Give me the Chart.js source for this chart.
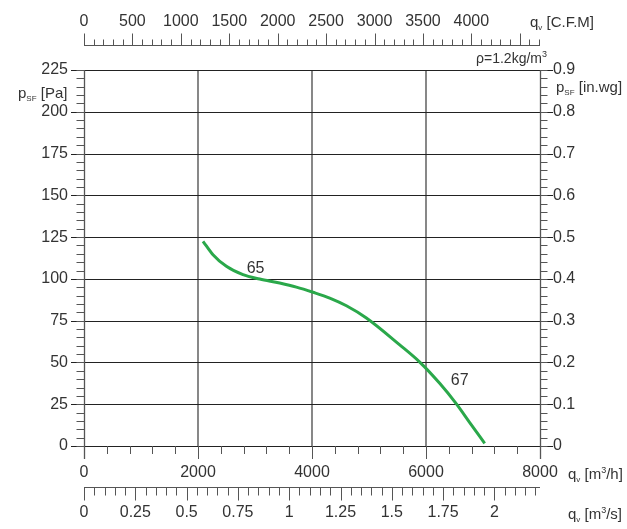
<!DOCTYPE html>
<html>
<head>
<meta charset="utf-8">
<script src="https://cdn.jsdelivr.net/npm/chart.js@4/dist/chart.umd.min.js"></script>
<style>
  html, body { margin: 0; padding: 0; background: #fff; }
  #fanChart { display: block; }
</style>
</head>
<body>
<canvas id="fanChart" width="627" height="529"></canvas>
<script>
// Fan curve
const flowM3h = [2088, 2263, 2498, 2789, 3083, 3433, 3726, 4018, 4311, 4604, 4954, 5539, 5890, 6240, 6533, 6767, 7030];
const pressurePa = [122.5, 114.5, 107.5, 102.5, 99.9, 97.5, 95.1, 92.0, 88.5, 83.9, 76.6, 60.5, 50.2, 37.5, 25.2, 14.0, 1.6];

// Curve labels (flow m3/h, pressure Pa)
const curveLabels = ["65", "67"];
const curveLabelFlow = [3010, 6590];
const curveLabelPa = [106.0, 39.0];

// Tick labels
const paTicks = [0, 25, 50, 75, 100, 125, 150, 175, 200, 225];
const inwgTicks = [0, 0.1, 0.2, 0.3, 0.4, 0.5, 0.6, 0.7, 0.8, 0.9];
const m3hTicks = [0, 2000, 4000, 6000, 8000];
const m3sTicks = [0, 0.25, 0.5, 0.75, 1, 1.25, 1.5, 1.75, 2];
const cfmTicks = [0, 500, 1000, 1500, 2000, 2500, 3000, 3500, 4000];

// Minor tick steps
const paMinor = 5;
const inwgMinor = 0.02;
const m3hMinor = 400;
const m3sMinor = 0.05;
const cfmMinor = 100;

const FLOW_MAX = 8000;
const CFM_FACTOR = 1.699;     // m3/h per CFM
const TEXT = "#333";
const FONT = '"Liberation Sans", Arial, sans-serif';

function fmt(v) {
    return String(v);
}

// text with a subscript, e.g. q with v
function drawSubText(ctx, x, y, parts, align) {
    let total = 0;
    parts.forEach(p => {
        ctx.font = `${p.size}px ${FONT}`;
        total += ctx.measureText(p.t).width;
    });
    let cx = align === "right" ? x - total : x;
    ctx.textAlign = "left";
    ctx.textBaseline = "alphabetic";
    parts.forEach(p => {
        ctx.font = `${p.size}px ${FONT}`;
        ctx.fillText(p.t, cx, y + (p.dy || 0));
        cx += ctx.measureText(p.t).width;
    });
}

function line(ctx, x1, y1, x2, y2) {
    ctx.beginPath();
    ctx.moveTo(x1, y1);
    ctx.lineTo(x2, y2);
    ctx.stroke();
}

function steps(max, step) {
    const out = [];
    for (let i = 0; i * step <= max + 1e-9; i++) out.push(i * step);
    return out;
}

const gridPlugin = {
    id: "fanGrid",
    beforeDatasetsDraw(chart) {
        const ctx = chart.ctx;
        const a = chart.chartArea;
        const sx = chart.scales.x;
        const sy = chart.scales.y;
        ctx.save();

        // vertical grid
        ctx.strokeStyle = "#6a6a6a";
        ctx.lineWidth = 1.6;
        m3hTicks.forEach(v => {
            if (v === 0 || v === FLOW_MAX) return;
            const px = Math.round(sx.getPixelForValue(v));
            line(ctx, px, a.top, px, a.bottom);
        });

        // horizontal grid (runs out into the major ticks on both sides)
        ctx.strokeStyle = "#222";
        ctx.lineWidth = 1.2;
        paTicks.forEach(v => {
            const py = Math.round(sy.getPixelForValue(v)) + 0.5;
            line(ctx, a.left - 13, py, a.right + 13, py);
        });
        ctx.restore();
    },
    afterDatasetsDraw(chart) {
        const ctx = chart.ctx;
        const a = chart.chartArea;
        const sx = chart.scales.x;
        const sy = chart.scales.y;
        const sWg = chart.scales.yWg;
        const sMs = chart.scales.xMs;
        const sCfm = chart.scales.xCfm;
        ctx.save();

        // main frame left / right axes
        ctx.strokeStyle = "#555";
        ctx.lineWidth = 1.3;
        const lx = Math.round(a.left) + 0.5;
        const rx = Math.round(a.right) + 0.5;
        line(ctx, lx, a.top, lx, a.bottom + 13);
        line(ctx, rx, a.top, rx, a.bottom + 13);

        // left minor ticks
        ctx.lineWidth = 1;
        steps(225, paMinor).forEach(v => {
            const py = Math.round(sy.getPixelForValue(v)) + 0.5;
            line(ctx, lx - 8, py, lx, py);
        });
        // right minor ticks
        steps(0.9, inwgMinor).forEach(v => {
            const py = Math.round(sWg.getPixelForValue(v)) + 0.5;
            line(ctx, rx, py, rx + 7, py);
        });
        // bottom ticks m3/h
        steps(FLOW_MAX, m3hMinor).forEach(v => {
            const px = Math.round(sx.getPixelForValue(v)) + 0.5;
            const major = v % 2000 === 0;
            line(ctx, px, a.bottom, px, a.bottom + (major ? 13 : 8));
        });

        // second bottom axis m3/s
        const msY = a.bottom + 41.5;
        line(ctx, a.left, msY, a.right, msY);
        steps(FLOW_MAX / 3600, m3sMinor).forEach(v => {
            const px = Math.round(sMs.getPixelForValue(v)) + 0.5;
            const major = Math.abs(v / 0.25 - Math.round(v / 0.25)) < 1e-6;
            line(ctx, px, msY, px, msY + (major ? 13 : 8));
        });

        // top axis CFM
        const cfmY = a.top - 24.5;
        line(ctx, a.left, cfmY, a.right, cfmY);
        steps(FLOW_MAX / CFM_FACTOR, cfmMinor).forEach(v => {
            const px = Math.round(sCfm.getPixelForValue(v)) + 0.5;
            const major = v % 500 === 0;
            line(ctx, px, cfmY, px, cfmY - (major ? 12 : 6));
        });

        // tick labels
        ctx.fillStyle = TEXT;
        ctx.font = `16px ${FONT}`;
        ctx.textBaseline = "middle";
        ctx.textAlign = "right";
        paTicks.forEach(v => ctx.fillText(fmt(v), a.left - 16, sy.getPixelForValue(v)));
        ctx.textAlign = "left";
        inwgTicks.forEach(v => ctx.fillText(fmt(v), a.right + 13, sWg.getPixelForValue(v)));
        ctx.textAlign = "center";
        m3hTicks.forEach(v => ctx.fillText(fmt(v), sx.getPixelForValue(v), a.bottom + 27));
        m3sTicks.forEach(v => ctx.fillText(fmt(v), sMs.getPixelForValue(v), a.bottom + 67));
        cfmTicks.forEach(v => ctx.fillText(fmt(v), sCfm.getPixelForValue(v), a.top - 48));

        // curve labels
        ctx.font = `16px ${FONT}`;
        curveLabels.forEach((t, i) => {
            ctx.fillText(t, sx.getPixelForValue(curveLabelFlow[i]), sy.getPixelForValue(curveLabelPa[i]));
        });

        // axis titles
        drawSubText(ctx, 530, a.top - 43, [
            { t: "q", size: 15 }, { t: "v", size: 8, dy: 3 }, { t: " [C.F.M]", size: 15 }
        ], "left");
        drawSubText(ctx, 568, a.bottom + 33, [
            { t: "q", size: 15 }, { t: "v", size: 8, dy: 3 }, { t: " [m", size: 15 },
            { t: "3", size: 9, dy: -6 }, { t: "/h]", size: 15 }
        ], "left");
        drawSubText(ctx, 568, a.bottom + 73, [
            { t: "q", size: 15 }, { t: "v", size: 8, dy: 3 }, { t: " [m", size: 15 },
            { t: "3", size: 9, dy: -6 }, { t: "/s]", size: 15 }
        ], "left");
        drawSubText(ctx, 18, a.top + 28, [
            { t: "p", size: 15 }, { t: "SF", size: 8, dy: 3 }, { t: " [Pa]", size: 15 }
        ], "left");
        drawSubText(ctx, 556, a.top + 22, [
            { t: "p", size: 15 }, { t: "SF", size: 8, dy: 3 }, { t: " [in.wg]", size: 15 }
        ], "left");
        drawSubText(ctx, 547, a.top - 7, [
            { t: "\u03c1=1.2kg/m", size: 14 }, { t: "3", size: 9, dy: -6 }
        ], "right");

        ctx.restore();
    }
};

const ctx = document.getElementById("fanChart").getContext("2d");
new Chart(ctx, {
    type: "line",
    data: {
        datasets: [{
            data: flowM3h.map((f, i) => ({ x: f, y: pressurePa[i] })),
            borderColor: "#2aa84a",
            borderWidth: 3,
            pointRadius: 0,
            cubicInterpolationMode: "monotone",
            fill: false,
            xAxisID: "x",
            yAxisID: "y"
        }]
    },
    options: {
        responsive: false,
        animation: false,
        devicePixelRatio: 1,
        layout: {
            padding: { left: 84, right: 87, top: 70, bottom: 83 }
        },
        plugins: {
            legend: { display: false },
            tooltip: { enabled: false }
        },
        scales: {
            x: { type: "linear", min: 0, max: FLOW_MAX, display: false },
            xMs: { type: "linear", axis: "x", min: 0, max: FLOW_MAX / 3600, display: false },
            xCfm: { type: "linear", axis: "x", min: 0, max: FLOW_MAX / CFM_FACTOR, display: false },
            y: { type: "linear", min: 0, max: 225, display: false },
            yWg: { type: "linear", axis: "y", min: 0, max: 0.9, display: false }
        }
    },
    plugins: [gridPlugin]
});
</script>
</body>
</html>
